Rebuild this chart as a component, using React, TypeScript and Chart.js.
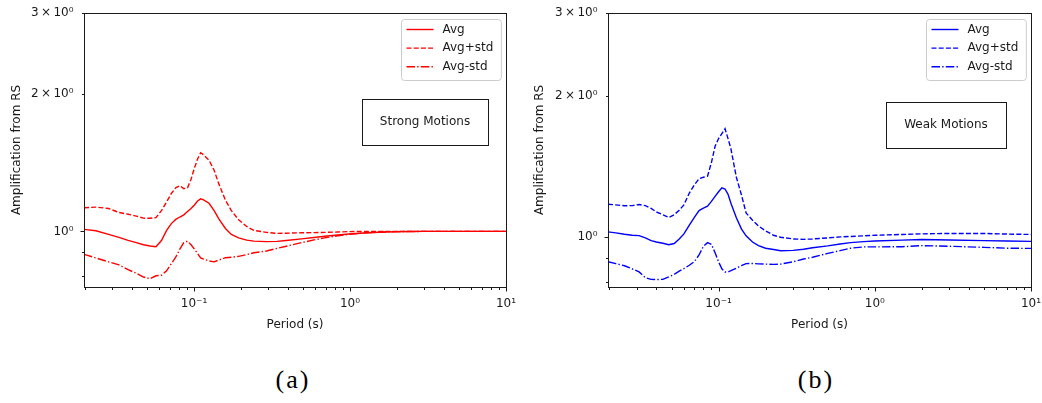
import React, { useEffect, useRef } from "react";
import { Chart, registerables } from "chart.js";

Chart.register(...registerables);

// ---------- data: (a) Strong Motions ----------
const periodsA = [0.0197, 0.0235, 0.0283, 0.033, 0.0378, 0.0426, 0.0474, 0.0522, 0.057, 0.0618, 0.0667, 0.0715, 0.0763, 0.0811, 0.086, 0.0908, 0.0957, 0.1005, 0.1054, 0.1102, 0.1151, 0.1248, 0.1345, 0.1442, 0.1589, 0.1735, 0.193, 0.2175, 0.2419, 0.2911, 0.3402, 0.3897, 0.4884, 0.5875, 0.6866, 0.8358, 0.985, 1.285, 1.686, 1.989, 3.0, 5.03, 7.07, 10.0];
const avgA = [1.010, 1.003, 0.985, 0.970, 0.956, 0.945, 0.935, 0.929, 0.926, 0.955, 1.005, 1.040, 1.062, 1.075, 1.087, 1.105, 1.122, 1.142, 1.165, 1.178, 1.172, 1.152, 1.110, 1.065, 1.015, 0.985, 0.968, 0.957, 0.952, 0.950, 0.951, 0.955, 0.963, 0.970, 0.976, 0.982, 0.987, 0.993, 0.997, 0.998, 1.0, 1.0, 1.0, 1.0];
const avgPlusA = [1.126, 1.130, 1.122, 1.100, 1.090, 1.080, 1.069, 1.068, 1.072, 1.110, 1.160, 1.210, 1.245, 1.258, 1.240, 1.245, 1.300, 1.375, 1.440, 1.485, 1.470, 1.430, 1.360, 1.270, 1.170, 1.110, 1.060, 1.025, 1.005, 0.995, 0.990, 0.991, 0.993, 0.994, 0.995, 0.997, 0.999, 1.0, 1.0, 1.0, 1.0, 1.0, 1.0, 1.0];
const avgMinusA = [0.891, 0.875, 0.858, 0.845, 0.825, 0.810, 0.795, 0.788, 0.800, 0.802, 0.820, 0.850, 0.878, 0.915, 0.945, 0.952, 0.935, 0.915, 0.895, 0.875, 0.870, 0.862, 0.858, 0.866, 0.876, 0.878, 0.882, 0.890, 0.898, 0.906, 0.918, 0.928, 0.945, 0.958, 0.968, 0.978, 0.985, 0.993, 0.997, 0.999, 1.0, 1.0, 1.0, 1.0];

// ---------- data: (b) Weak Motions ----------
const periodsB = [0.0196, 0.022, 0.025, 0.028, 0.031, 0.034, 0.037, 0.040, 0.044, 0.048, 0.052, 0.056, 0.060, 0.065, 0.070, 0.075, 0.080, 0.085, 0.090, 0.095, 0.100, 0.105, 0.110, 0.115, 0.120, 0.130, 0.140, 0.150, 0.165, 0.180, 0.200, 0.225, 0.250, 0.300, 0.350, 0.400, 0.500, 0.600, 0.700, 0.850, 1.0, 1.5, 2.0, 3.0, 5.0, 7.0, 10.0];
const avgB = [1.025, 1.020, 1.013, 1.008, 1.006, 0.995, 0.982, 0.975, 0.969, 0.962, 0.968, 0.990, 1.015, 1.060, 1.100, 1.138, 1.152, 1.163, 1.190, 1.220, 1.248, 1.272, 1.265, 1.232, 1.180, 1.098, 1.040, 1.005, 0.975, 0.958, 0.946, 0.940, 0.934, 0.936, 0.941, 0.948, 0.957, 0.966, 0.972, 0.977, 0.980, 0.984, 0.987, 0.985, 0.982, 0.980, 0.978];
const avgPlusB = [1.174, 1.170, 1.165, 1.166, 1.172, 1.166, 1.150, 1.130, 1.115, 1.100, 1.115, 1.140, 1.170, 1.240, 1.290, 1.330, 1.340, 1.347, 1.440, 1.560, 1.620, 1.660, 1.700, 1.620, 1.540, 1.340, 1.230, 1.125, 1.085, 1.055, 1.030, 1.008, 0.998, 0.990, 0.988, 0.990, 0.995, 1.000, 1.002, 1.005, 1.008, 1.012, 1.015, 1.017, 1.017, 1.014, 1.012];
const avgMinusB = [0.885, 0.877, 0.868, 0.855, 0.842, 0.818, 0.812, 0.811, 0.812, 0.822, 0.832, 0.845, 0.856, 0.870, 0.886, 0.915, 0.955, 0.972, 0.964, 0.925, 0.885, 0.855, 0.842, 0.842, 0.847, 0.858, 0.868, 0.877, 0.878, 0.876, 0.875, 0.874, 0.875, 0.885, 0.897, 0.905, 0.922, 0.935, 0.946, 0.952, 0.952, 0.953, 0.958, 0.955, 0.950, 0.946, 0.945];

// ---------- labels / ticks ----------
const seriesLabels = ["Avg", "Avg+std", "Avg-std"];
const xTickValues = [0.02, 0.03, 0.04, 0.05, 0.06, 0.07, 0.08, 0.09, 0.1, 0.2, 0.3, 0.4, 0.5, 0.6, 0.7, 0.8, 0.9, 1, 2, 3, 4, 5, 6, 7, 8, 9, 10];
const xTickLabels = ["", "", "", "", "", "", "", "", "10⁻¹", "", "", "", "", "", "", "", "", "10⁰", "", "", "", "", "", "", "", "", "10¹"];
const xMajorTicks = [0.1, 1, 10];
const yTickValues = [0.8, 0.9, 1, 2, 3];
const yTickLabels = ["", "", "10⁰", "2\u2009×\u200910⁰", "3\u2009×\u200910⁰"];
const yMajorTicks = [1];
const xTitle = "Period (s)";
const yTitle = "Amplification from RS";

const DASHED = [5, 2.2];
const DASHDOT = [8.5, 2.2, 1.4, 2.2];
const INK = "#1a1a1a";

const findIdx = (arr: number[], v: number) => arr.findIndex((t) => Math.abs(t - v) < 1e-9 * Math.max(1, Math.abs(t)));

const framePlugin = {
  id: "mplFrame",
  afterDatasetsDraw(chart: any) {
    const { ctx, chartArea: a, scales } = chart;
    ctx.save();
    ctx.strokeStyle = INK;
    ctx.lineWidth = 1;
    ctx.setLineDash([]);
    ctx.strokeRect(Math.round(a.left) + 0.5, Math.round(a.top) + 0.5, Math.round(a.right - a.left), Math.round(a.bottom - a.top));
    const xs = scales.x;
    xs.ticks.forEach((t: any) => {
      const px = Math.round(xs.getPixelForValue(t.value)) + 0.5;
      const len = findIdx(xMajorTicks, t.value) >= 0 ? 4 : 2.5;
      ctx.beginPath();
      ctx.moveTo(px, Math.round(a.bottom) + 0.5);
      ctx.lineTo(px, Math.round(a.bottom) + 0.5 + len);
      ctx.stroke();
    });
    const ys = scales.y;
    ys.ticks.forEach((t: any) => {
      const py = Math.round(ys.getPixelForValue(t.value)) + 0.5;
      const len = findIdx(yMajorTicks, t.value) >= 0 ? 4 : 2.5;
      ctx.beginPath();
      ctx.moveTo(Math.round(a.left) + 0.5, py);
      ctx.lineTo(Math.round(a.left) + 0.5 - len, py);
      ctx.stroke();
    });
    ctx.restore();
  },
};

function roundRectPath(ctx: CanvasRenderingContext2D, x: number, y: number, w: number, h: number, r: number) {
  ctx.beginPath();
  ctx.moveTo(x + r, y);
  ctx.lineTo(x + w - r, y);
  ctx.arcTo(x + w, y, x + w, y + r, r);
  ctx.lineTo(x + w, y + h - r);
  ctx.arcTo(x + w, y + h, x + w - r, y + h, r);
  ctx.lineTo(x + r, y + h);
  ctx.arcTo(x, y + h, x, y + h - r, r);
  ctx.lineTo(x, y + r);
  ctx.arcTo(x, y, x + r, y, r);
  ctx.closePath();
}

const legendPlugin = {
  id: "mplLegend",
  afterDraw(chart: any, _args: any, opts: any) {
    const { ctx, chartArea: a } = chart;
    const ds = chart.data.datasets;
    ctx.save();
    ctx.font = '12px "DejaVu Sans", sans-serif';
    const textW = Math.max(...ds.map((d: any) => ctx.measureText(d.label).width));
    const w = 5 + 27 + 9 + textW + 8;
    const h = 61;
    const x0 = Math.round(a.right - opts.rightInset - w) + 0.5;
    const y0 = Math.round(a.top + opts.topInset) + 0.5;
    roundRectPath(ctx, x0, y0, w, h, 3);
    ctx.fillStyle = "rgba(255,255,255,0.8)";
    ctx.fill();
    ctx.strokeStyle = "#cccccc";
    ctx.lineWidth = 1;
    ctx.stroke();
    ds.forEach((d: any, i: number) => {
      const cy = y0 + 10 + i * 18.6;
      ctx.strokeStyle = d.borderColor;
      ctx.lineWidth = d.borderWidth;
      ctx.setLineDash(d.borderDash || []);
      ctx.beginPath();
      ctx.moveTo(x0 + 5, cy);
      ctx.lineTo(x0 + 32, cy);
      ctx.stroke();
      ctx.setLineDash([]);
      ctx.fillStyle = INK;
      ctx.textAlign = "left";
      ctx.textBaseline = "middle";
      ctx.fillText(d.label, x0 + 41, cy);
    });
    ctx.restore();
  },
};

const textBoxPlugin = {
  id: "mplTextBox",
  afterDraw(chart: any, _args: any, opts: any) {
    const { ctx, chartArea: a } = chart;
    ctx.save();
    ctx.font = '12px "DejaVu Sans", sans-serif';
    const tw = ctx.measureText(opts.text).width;
    const cx = a.left + opts.fx * (a.right - a.left);
    const cy = a.top + opts.fy * (a.bottom - a.top);
    const w = tw + 2 * opts.padX;
    const h = opts.h;
    ctx.strokeStyle = INK;
    ctx.lineWidth = 1;
    ctx.strokeRect(Math.round(cx - w / 2) + 0.5, Math.round(cy - h / 2) + 0.5, Math.round(w), Math.round(h));
    ctx.fillStyle = INK;
    ctx.textAlign = "center";
    ctx.textBaseline = "middle";
    ctx.fillText(opts.text, cx, cy);
    ctx.restore();
  },
};

type PanelProps = {
  periods: number[];
  avg: number[];
  plus: number[];
  minus: number[];
  color: string;
  xMin: number;
  yMin: number;
  yMax: number;
  left: number;
  width: number;
  height: number;
  padTop: number;
  padRight: number;
  yAxisWidth: number;
  xAxisHeight: number;
  yTitlePad: number;
  boxText: string;
  boxFx: number;
  boxFy: number;
};

function Panel(p: PanelProps) {
  const ref = useRef<HTMLCanvasElement>(null);
  useEffect(() => {
    Chart.defaults.font.family = '"DejaVu Sans", sans-serif';
    const mk = (vals: number[]) => p.periods.map((x, i) => ({ x, y: vals[i] }));
    const chart = new Chart(ref.current as HTMLCanvasElement, {
      type: "line",
      data: {
        datasets: [
          { label: seriesLabels[0], data: mk(p.avg), borderColor: p.color, borderWidth: 1.4, borderDash: [] },
          { label: seriesLabels[1], data: mk(p.plus), borderColor: p.color, borderWidth: 1.4, borderDash: DASHED },
          { label: seriesLabels[2], data: mk(p.minus), borderColor: p.color, borderWidth: 1.4, borderDash: DASHDOT },
        ],
      },
      options: {
        responsive: false,
        animation: false,
        devicePixelRatio: 1,
        layout: { padding: { top: p.padTop, right: p.padRight, left: 0, bottom: 0 } },
        elements: { point: { radius: 0 }, line: { tension: 0, fill: false } },
        plugins: {
          legend: { display: false },
          tooltip: { enabled: false },
          mplLegend: { rightInset: 5.5, topInset: 6 },
          mplTextBox: { text: p.boxText, fx: p.boxFx, fy: p.boxFy, padX: 18, h: 45.5 },
        } as any,
        scales: {
          x: {
            type: "logarithmic",
            min: p.xMin,
            max: 10,
            bounds: "data",
            afterBuildTicks: (s: any) => {
              s.ticks = xTickValues.filter((v) => v >= p.xMin && v <= 10).map((v) => ({ value: v }));
            },
            afterFit: (s: any) => {
              s.height = p.xAxisHeight;
              s.paddingLeft = 0;
              s.paddingRight = 0;
            },
            grid: { display: false, drawTicks: false },
            border: { display: false },
            ticks: {
              autoSkip: false,
              maxRotation: 0,
              minRotation: 0,
              padding: 10,
              color: INK,
              font: { size: 12 },
              callback: (v: any) => {
                const i = findIdx(xTickValues, Number(v));
                return i >= 0 ? xTickLabels[i] : "";
              },
            },
            title: { display: true, text: xTitle, color: INK, font: { size: 12 }, padding: { top: 0, bottom: 7.8 } },
          },
          y: {
            type: "logarithmic",
            min: p.yMin,
            max: p.yMax,
            bounds: "data",
            afterBuildTicks: (s: any) => {
              s.ticks = yTickValues.filter((v) => v >= p.yMin && v <= p.yMax).map((v) => ({ value: v }));
            },
            afterFit: (s: any) => {
              s.width = p.yAxisWidth;
              s.paddingTop = 0;
              s.paddingBottom = 0;
            },
            grid: { display: false, drawTicks: false },
            border: { display: false },
            ticks: {
              autoSkip: false,
              padding: 10.5,
              color: INK,
              font: { size: 12 },
              callback: (v: any) => {
                const i = findIdx(yTickValues, Number(v));
                return i >= 0 ? yTickLabels[i] : "";
              },
            },
            title: { display: true, text: yTitle, color: INK, font: { size: 12 }, padding: { top: p.yTitlePad, bottom: 0 } },
          },
        },
      } as any,
      plugins: [framePlugin, legendPlugin, textBoxPlugin],
    });
    return () => chart.destroy();
  }, []);
  return (
    <canvas
      ref={ref}
      width={p.width}
      height={p.height}
      style={{ position: "absolute", left: p.left, top: 0, width: p.width, height: p.height }}
    />
  );
}

const captionStyle: React.CSSProperties = {
  position: "absolute",
  top: 367,
  width: 100,
  textAlign: "center",
  fontFamily: '"Liberation Serif", "Times New Roman", serif',
  fontSize: 26,
  lineHeight: "26px",
  letterSpacing: "2px",
  color: "#000",
};

export default function App() {
  return (
    <div style={{ position: "absolute", left: 0, top: 0, width: 1042, height: 403, background: "#fff", overflow: "hidden" }}>
      <Panel
        periods={periodsA}
        avg={avgA}
        plus={avgPlusA}
        minus={avgMinusA}
        color="#ff0000"
        xMin={0.0197}
        yMin={0.756}
        yMax={3}
        left={0}
        width={520}
        height={340}
        padTop={13}
        padRight={14}
        yAxisWidth={84}
        xAxisHeight={53}
        yTitlePad={9.3}
        boxText="Strong Motions"
        boxFx={0.808}
        boxFy={0.396}
      />
      <Panel
        periods={periodsB}
        avg={avgB}
        plus={avgPlusB}
        minus={avgMinusB}
        color="#0000ff"
        xMin={0.0196}
        yMin={0.782}
        yMax={3}
        left={520}
        width={522}
        height={340}
        padTop={13}
        padRight={11}
        yAxisWidth={88}
        xAxisHeight={53}
        yTitlePad={12.8}
        boxText="Weak Motions"
        boxFx={0.799}
        boxFy={0.407}
      />
      <div style={{ ...captionStyle, left: 292 - 50 + 1 }}>(a)</div>
      <div style={{ ...captionStyle, left: 815 - 50 + 1 }}>(b)</div>
    </div>
  );
}
